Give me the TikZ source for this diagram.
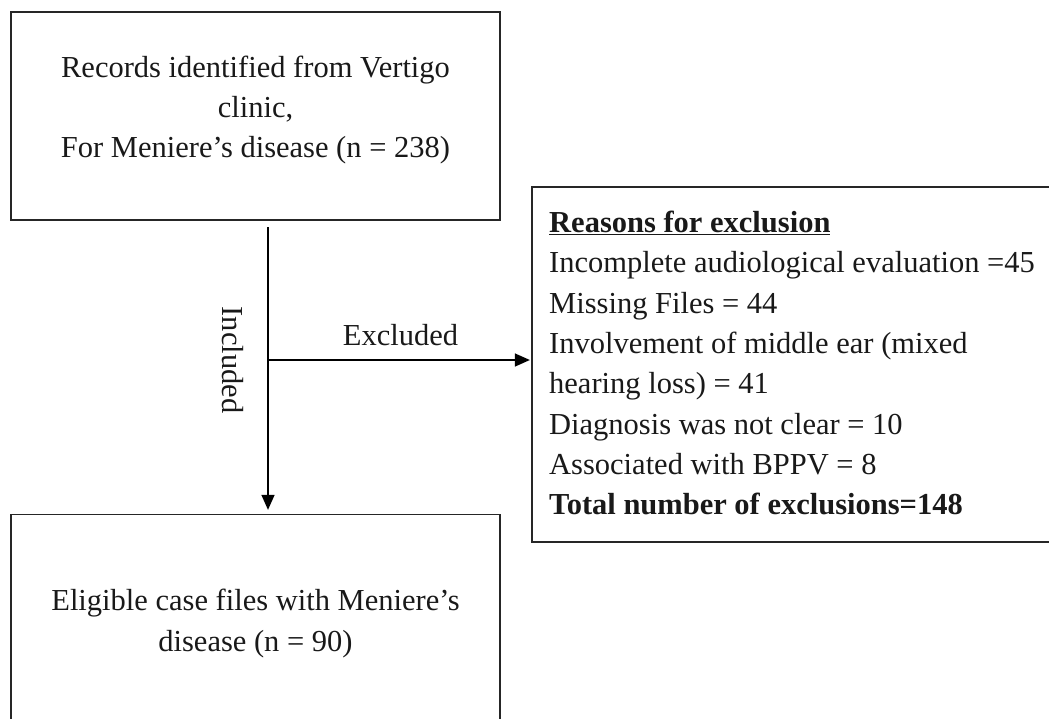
\documentclass[tikz,border=0pt]{standalone}
\usepackage{fontspec}
\setmainfont{Liberation Serif}
\usetikzlibrary{arrows.meta}
\begin{document}
\begin{tikzpicture}[x=1pt,y=-1pt,
  box/.style={draw=black!85, line width=1.3pt, inner sep=0pt},
  txt/.style={font=\fontsize{30.5}{40.3}\selectfont, inner sep=0pt, text=black!90},
  line/.style={line width=1.4pt},
  conn/.style={line width=1.4pt, -{Triangle[length=15pt,width=13pt]}}]
\useasboundingbox (0,0) rectangle (1049,718);
\clip (0,0) rectangle (1049,718);
% boxes
\node[box, minimum width=489pt, minimum height=208pt] (recbox) at (255.5,116) {};
\node[box, minimum width=489pt, minimum height=285.5pt] (eligbox) at (255.5,657.25) {};
\node[box, minimum width=548pt, minimum height=355pt] (exclbox) at (806,364.5) {};
% texts
\node[txt, align=center] (rectxt) at (255.5,110) {Records identified from Vertigo\\clinic,\\For Meniere’s disease (n = 238)};
\node[txt, align=center] (eligtxt) at (255.5,623.5) {Eligible case files with Meniere’s\\disease (n = 90)};
\node[txt, align=left, anchor=north west] (excltxt) at (549,211) {\underline{\textbf{Reasons for exclusion}}\\Incomplete audiological evaluation =45\\Missing Files = 44\\Involvement of middle ear (mixed\\hearing loss) = 41\\Diagnosis was not clear = 10\\Associated with BPPV = 8\\\textbf{Total number of exclusions=148}};
% connectors
\coordinate (vstart) at (268,227);
\coordinate (split) at (268,360);
\draw[conn, shorten >=4pt] (vstart) -- (vstart |- eligbox.north);
\draw[conn, shorten >=1.5pt] (split) -- (split -| exclbox.west);
% labels
\node[txt, rotate=-90] (inclbl) at (233,360) {Included};
\node[txt, anchor=base] (exclbl) at (400.5,345) {Excluded};
\end{tikzpicture}
\end{document}
